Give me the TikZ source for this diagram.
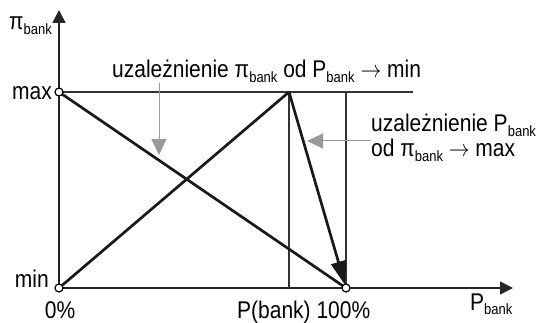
\documentclass[tikz,border=0pt]{standalone}
\usepackage{fontspec}
\usepackage{graphicx}
\setmainfont{Liberation Sans}
\usetikzlibrary{arrows.meta}
\newcommand\bk{\raisebox{-3.5pt}{\fontsize{13}{13}\selectfont bank}}
\newcommand\rarr{\raisebox{0.5pt}{$\rightarrow$}}
\newcommand\tall[1]{\scalebox{1}[1.15]{#1}}
\begin{document}
\begin{tikzpicture}[x=1pt,y=-1pt,
  lbl/.style={inner sep=0pt, font=\fontsize{21}{25}\selectfont},
  axisline/.style={line width=1.5pt, black!85, -{Triangle[length=13pt,width=13pt]}},
  thinline/.style={line width=1.4pt, black!80},
  thickline/.style={line width=2.7pt, black!90},
  grayarrow/.style={line width=1pt, gray!80, -{Triangle[length=16pt,width=15pt]}},
  pt/.style={circle, draw=black, line width=1.2pt, fill=white, inner sep=0pt, minimum size=8pt}]
\useasboundingbox (0,0) rectangle (538,323);
% key points
\coordinate (O) at (59,288);
\coordinate (Ymax) at (59,92);
\coordinate (Top) at (289,92);
\coordinate (Pb) at (289,288);
\coordinate (H) at (346,288);
\coordinate (Htop) at (346,92);
\coordinate (Lend) at (413,92);
\coordinate (Yend) at (59,10);
\coordinate (Xend) at (513,288);
% axes
\draw[axisline] (O) -- (Yend);
\draw[axisline] (O) -- (Xend);
% guide lines
\draw[thinline] (Ymax) -- (Lend);
\draw[thinline] (Top) -- (Pb);
\draw[thinline] (Htop) -- (H);
% thick lines
\draw[thickline] (Ymax) -- (H);
\draw[thickline] (O) -- (Top);
\draw[thickline, -{Triangle[length=24pt,width=15pt]}, shorten >=3pt] (Top) -- (H);
% points
\node[pt] (p1) at (Ymax) {};
\node[pt] (p2) at (O) {};
\node[pt] (p3) at (H) {};
% labels
\node[lbl, anchor=base west] (ylab) at (9,30) {\tall{π\bk}};
\node[lbl, anchor=base east] (maxl) at (52,100) {\tall{max}};
\node[lbl, anchor=base east] (minl) at (49,287) {\tall{min}};
\node[lbl, anchor=base] (zero) at (60,318) {\tall{0\%}};
\node[lbl, anchor=base west] (pbl) at (237,318) {\tall{P(bank) 100\%}};
\node[lbl, anchor=base west] (xlab) at (470,310) {\tall{P\bk}};
\node[lbl, anchor=base west] (toptxt) at (112,78) {\tall{uzależnienie π\bk{} od P\bk{} \rarr{} min}};
\node[lbl, anchor=base west, align=left] (rtxt) at (371,157) {\tall{uzależnienie P\bk}\\\tall{od π\bk{} \rarr{} max}};
% gray arrows
\coordinate (a1s) at (159,83);
\coordinate (a1e) at (159,155);
\coordinate (a2s) at (371,141);
\coordinate (a2e) at (307,141);
\draw[grayarrow] (a1s) -- (a1e);
\draw[grayarrow] (a2s) -- (a2e);
\end{tikzpicture}
\end{document}
